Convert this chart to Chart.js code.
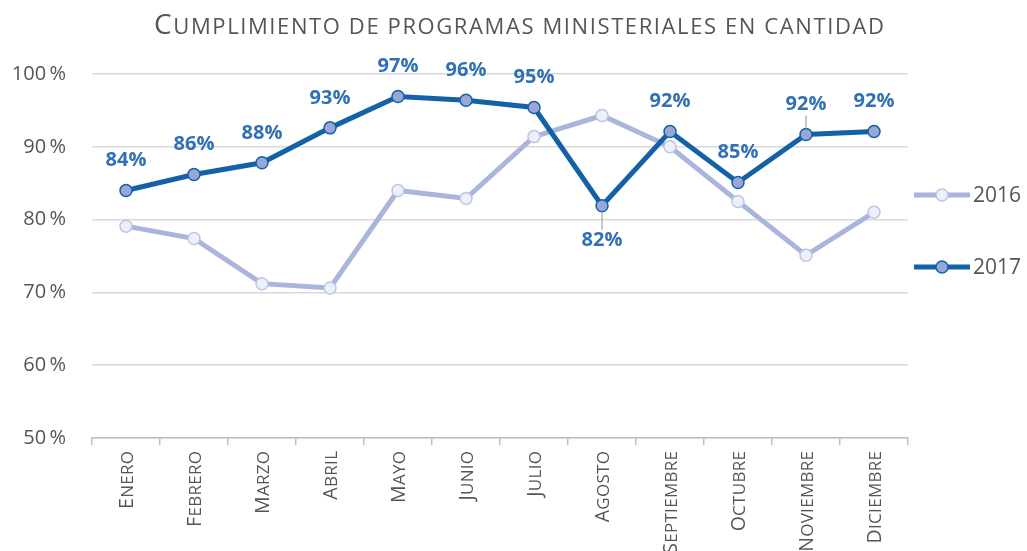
<!DOCTYPE html>
<html>
<head>
<meta charset="utf-8">
<script src="https://cdn.jsdelivr.net/npm/chart.js@4.4.0/dist/chart.umd.min.js"></script>
<style>
  html, body { margin: 0; padding: 0; background: #fff; }
  #wrap { width: 1027px; height: 551px; position: relative; }
</style>
</head>
<body>
<div id="wrap"><canvas id="programasChart"></canvas></div>
<script>
const chartTitle = "Cumplimiento de programas ministeriales en cantidad";
const months = ["Enero", "Febrero", "Marzo", "Abril", "Mayo", "Junio", "Julio", "Agosto", "Septiembre", "Octubre", "Noviembre", "Diciembre"];
const seriesNames = ["2016", "2017"];
const values2016 = [79.1, 77.4, 71.2, 70.6, 84.0, 82.9, 91.4, 94.3, 90.0, 82.5, 75.1, 81.0];
const values2017 = [84.0, 86.2, 87.8, 92.6, 96.9, 96.4, 95.4, 81.9, 92.1, 85.1, 91.7, 92.1];
const yTicks = [50, 60, 70, 80, 90, 100];

const FONT = "'Open Sans', 'Noto Sans', sans-serif";
const gray = "#555555";
const dark = "#1561a8";
const light = "#aab5dd";
const labelBlue = "#2f70b6";

// labels placed under the point, and labels with a short leader line
const labelsBelow = [7];
const labelsWithLeader = [7, 10];

// draws text in small caps: real capitals at "big", the rest upper-cased at "small"
function smallCaps(ctx, text, x, y, big, small, align, spacing) {
  const chars = [...text].map((ch) => {
    const isCap = ch !== ch.toLowerCase() && ch === ch.toUpperCase();
    const size = isCap ? big : small;
    ctx.font = `${size}px ${FONT}`;
    return { ch: ch.toUpperCase(), size, w: ctx.measureText(ch.toUpperCase()).width };
  });
  const total = chars.reduce((s, c) => s + c.w + spacing, 0) - spacing;
  let cx = align === "center" ? x - total / 2 : align === "right" ? x - total : x;
  ctx.textAlign = "left";
  ctx.textBaseline = "alphabetic";
  chars.forEach((c) => {
    ctx.font = `${c.size}px ${FONT}`;
    ctx.fillText(c.ch, cx, y);
    cx += c.w + spacing;
  });
}

const titlePlugin = {
  id: "smallCapsTitle",
  afterDraw(chart) {
    const ctx = chart.ctx;
    ctx.save();
    ctx.fillStyle = gray;
    smallCaps(ctx, chartTitle, 519, 34, 28, 22, "center", 1.6);
    ctx.restore();
  },
};

const monthPlugin = {
  id: "monthLabels",
  afterDraw(chart) {
    const ctx = chart.ctx;
    const xs = chart.scales.x;
    ctx.save();
    ctx.fillStyle = gray;
    months.forEach((m, i) => {
      const x = xs.getPixelForValue(i);
      ctx.save();
      ctx.translate(x + 6.5, 451);
      ctx.rotate(-Math.PI / 2);
      smallCaps(ctx, m, 0, 0, 19.5, 17, "right", 0.3);
      ctx.restore();
    });
    ctx.restore();
  },
};

const valuePlugin = {
  id: "valueLabels",
  afterDatasetsDraw(chart) {
    const ctx = chart.ctx;
    const meta = chart.getDatasetMeta(1);
    ctx.save();
    ctx.font = `bold 20px ${FONT}`;
    ctx.textAlign = "center";
    ctx.textBaseline = "middle";
    meta.data.forEach((pt, i) => {
      const below = labelsBelow.includes(i);
      const ly = below ? pt.y + 35 : pt.y - 30;
      if (labelsWithLeader.includes(i)) {
        ctx.strokeStyle = "#a6a6a6";
        ctx.lineWidth = 1.2;
        ctx.beginPath();
        ctx.moveTo(pt.x, below ? pt.y + 6 : pt.y - 6);
        ctx.lineTo(pt.x, below ? ly - 11 : ly + 11);
        ctx.stroke();
      }
      ctx.fillStyle = labelBlue;
      ctx.fillText(Math.round(values2017[i]) + "%", pt.x, ly);
    });
    ctx.restore();
  },
};

const legendPlugin = {
  id: "sideLegend",
  afterDraw(chart) {
    const ctx = chart.ctx;
    const ds = chart.data.datasets;
    ctx.save();
    ds.forEach((d, i) => {
      const y = i === 0 ? 195 : 267;
      ctx.strokeStyle = d.borderColor;
      ctx.lineWidth = d.borderWidth;
      ctx.beginPath();
      ctx.moveTo(914, y);
      ctx.lineTo(970, y);
      ctx.stroke();
      ctx.beginPath();
      ctx.arc(942, y, d.pointRadius, 0, Math.PI * 2);
      ctx.fillStyle = d.pointBackgroundColor;
      ctx.fill();
      ctx.lineWidth = d.pointBorderWidth;
      ctx.strokeStyle = d.pointBorderColor;
      ctx.stroke();
      ctx.fillStyle = gray;
      ctx.font = `21px ${FONT}`;
      ctx.textAlign = "left";
      ctx.textBaseline = "middle";
      ctx.fillText(d.label, 973, y + 1);
    });
    ctx.restore();
  },
};

new Chart(document.getElementById("programasChart").getContext("2d"), {
  type: "line",
  data: {
    labels: months,
    datasets: [
      {
        label: seriesNames[0],
        data: values2016,
        borderColor: light,
        borderWidth: 5,
        pointRadius: 6,
        pointBackgroundColor: "#eef0f9",
        pointBorderColor: "#bcc5e6",
        pointBorderWidth: 1.5,
        tension: 0,
        order: 2,
      },
      {
        label: seriesNames[1],
        data: values2017,
        borderColor: dark,
        borderWidth: 5,
        pointRadius: 6,
        pointBackgroundColor: "#98a7d5",
        pointBorderColor: dark,
        pointBorderWidth: 1.5,
        tension: 0,
        order: 1,
      },
    ],
  },
  options: {
    responsive: true,
    maintainAspectRatio: false,
    animation: false,
    layout: { padding: { top: 74, right: 119, bottom: 0, left: 0 } },
    plugins: { legend: { display: false }, title: { display: false }, tooltip: { enabled: false } },
    scales: {
      x: {
        offset: true,
        grid: { offset: true, drawOnChartArea: false, drawTicks: true, tickLength: 7, color: "#bfbfbf", lineWidth: 1.5 },
        border: { color: "#bfbfbf", width: 1.5 },
        ticks: { display: false },
        afterFit: (s) => { s.height = 113; },
      },
      y: {
        min: yTicks[0],
        max: yTicks[yTicks.length - 1],
        afterBuildTicks: (s) => { s.ticks = yTicks.map((v) => ({ value: v })); },
        grid: { color: "#d9d9d9", lineWidth: 1.5, drawTicks: false },
        border: { display: false },
        ticks: { color: gray, padding: 26, font: { family: FONT, size: 20 }, callback: (v) => v + "\u2009%" },
        afterFit: (s) => { s.width = 92; },
      },
    },
  },
  plugins: [titlePlugin, monthPlugin, valuePlugin, legendPlugin],
});
</script>
</body>
</html>
